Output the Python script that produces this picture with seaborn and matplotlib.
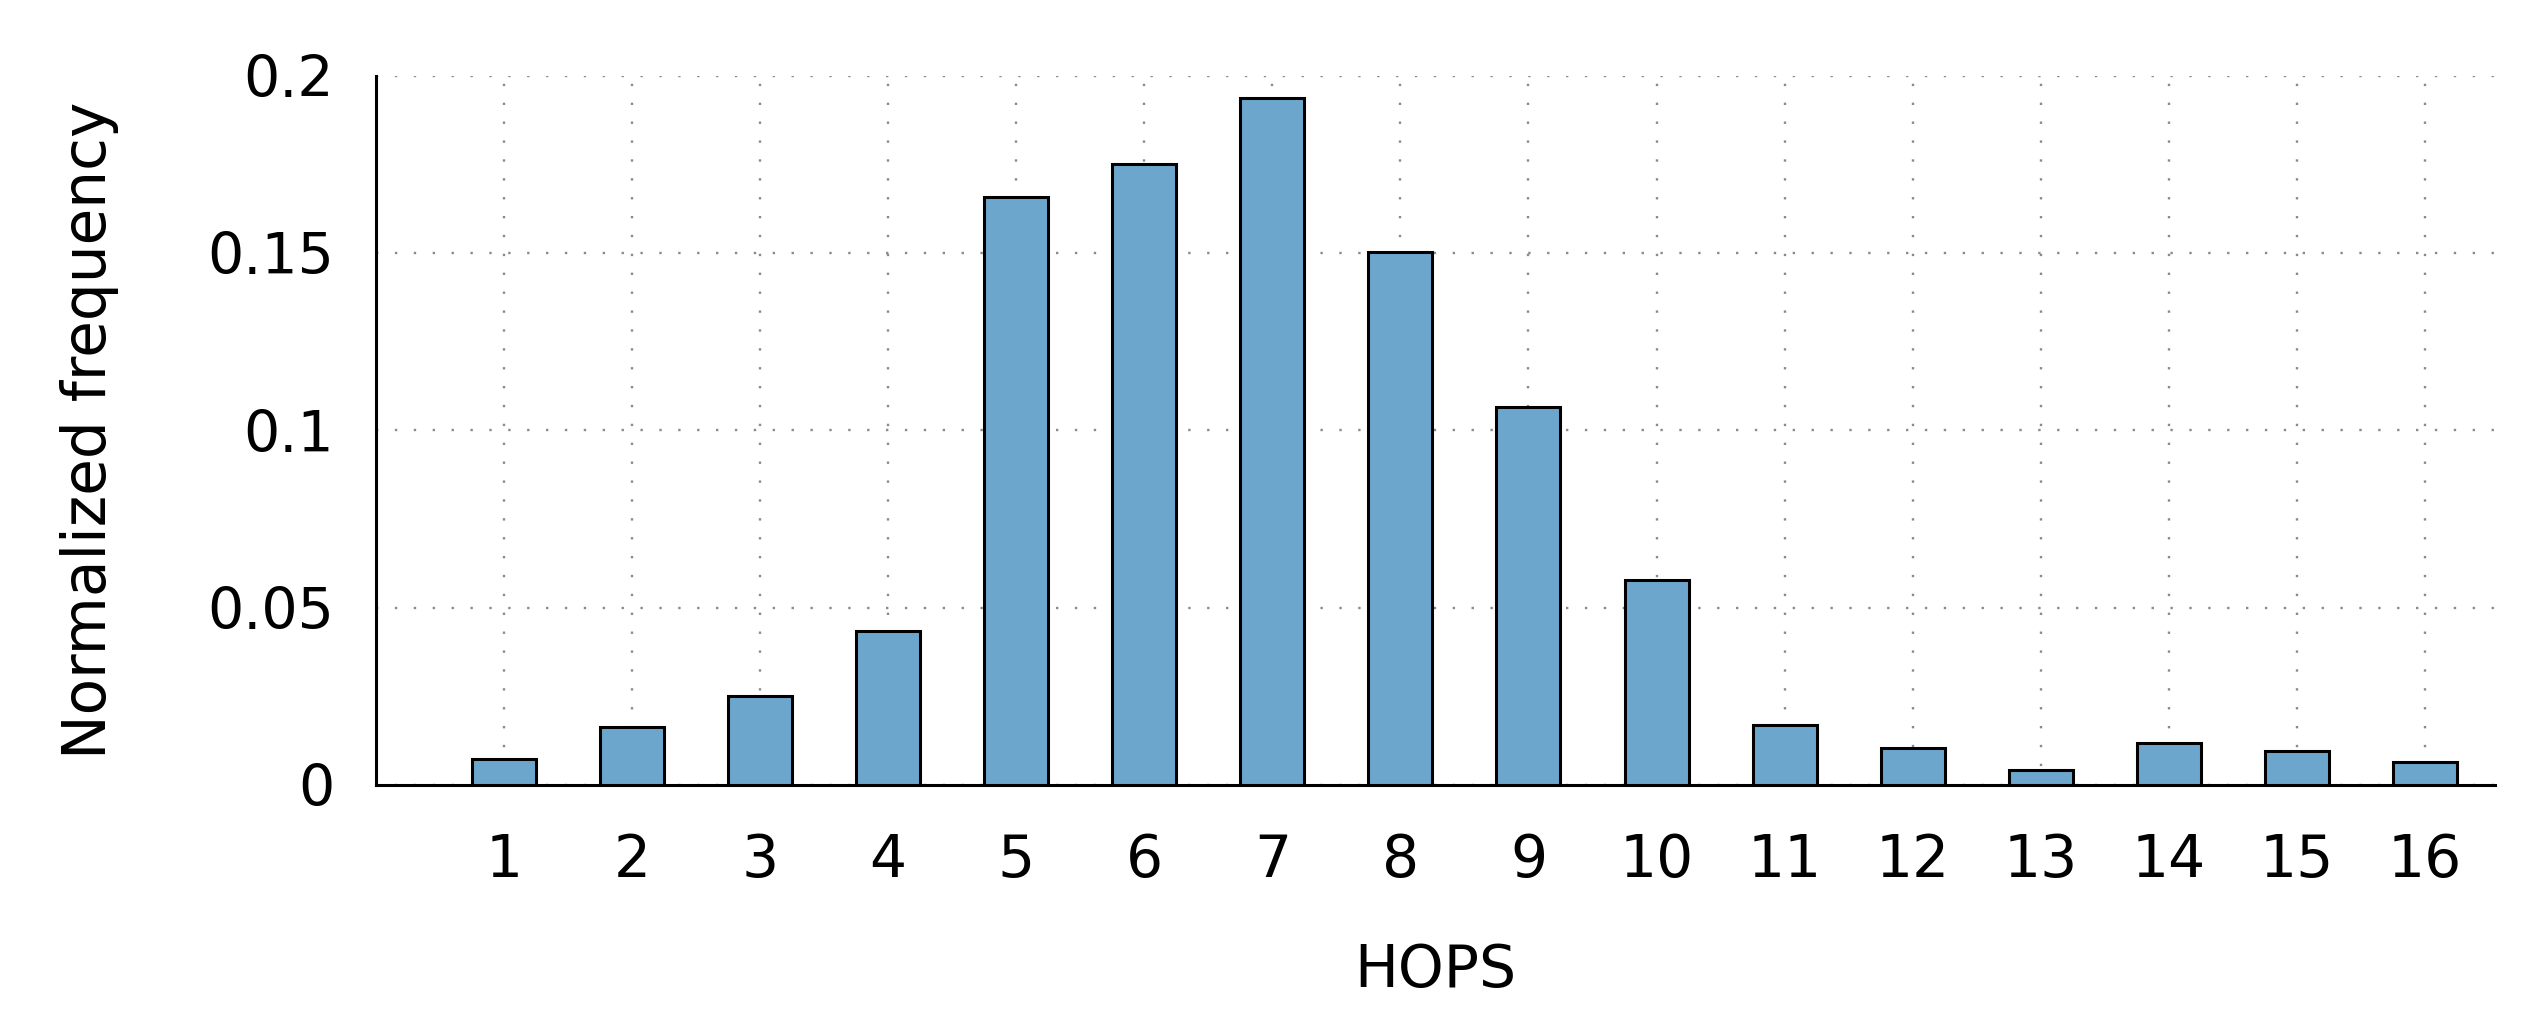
import matplotlib
matplotlib.use("Agg")
import matplotlib.pyplot as plt
import seaborn as sns
import pandas as pd

# values
hops = [1, 2, 3, 4, 5, 6, 7, 8, 9, 10, 11, 12, 13, 14, 15, 16]
freq = [0.0073, 0.0164, 0.0250, 0.0433, 0.1658, 0.1750, 0.1936, 0.1503,
        0.1066, 0.0579, 0.0169, 0.0105, 0.0041, 0.0118, 0.0096, 0.0064]
ytick_vals = [0, 0.05, 0.1, 0.15, 0.2]
ytick_labels = ["0", "0.05", "0.1", "0.15", "0.2"]

sns.set_theme(style="white")
plt.rcParams['font.family'] = ['DejaVu Sans']

df = pd.DataFrame({"HOPS": hops, "freq": freq})

fig = plt.figure(figsize=(25.32, 10.22), dpi=100)
ax = fig.add_axes([0.1485, 0.232, 0.837, 0.694])

sns.barplot(data=df, x="HOPS", y="freq", native_scale=True, width=0.5,
            color="#6CA6CD", saturation=1, edgecolor="black", linewidth=2.2,
            ax=ax, zorder=3)

ax.set_xlim(0, 16.55)
ax.set_ylim(0, 0.2)
ax.set_xticks(hops)
ax.set_xticklabels([str(h) for h in hops])
ax.set_yticks(ytick_vals)
ax.set_yticklabels(ytick_labels)

ax.grid(True, color="#8a8a8a", linestyle=(0, (1, 7)), linewidth=1.7, zorder=0)
ax.set_axisbelow(True)

for s in ["top", "right"]:
    ax.spines[s].set_visible(False)
for s in ["left", "bottom"]:
    ax.spines[s].set_color("black")
    ax.spines[s].set_linewidth(2.2)

ax.tick_params(axis="x", length=0, pad=34, labelsize=42, colors="black")
ax.tick_params(axis="y", length=0, pad=30, labelsize=41, colors="black")

ax.set_xlabel("HOPS", fontsize=42, labelpad=38, color="black")
ax.set_ylabel("Normalized frequency", fontsize=43, labelpad=64, color="black")

fig.savefig("out.png", dpi=100, facecolor="white")
